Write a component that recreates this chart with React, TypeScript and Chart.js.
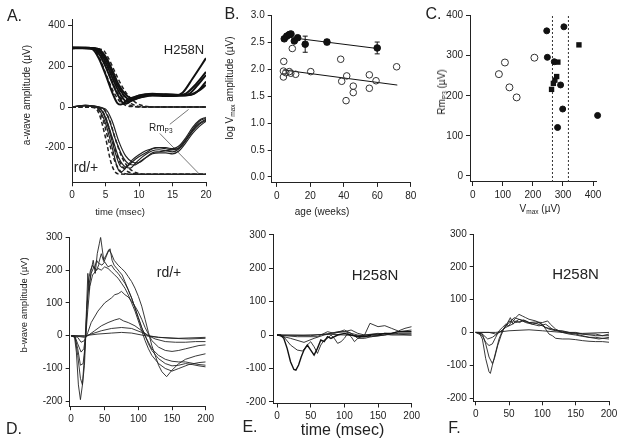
import React, { useEffect, useRef } from "react";
import { Chart, registerables } from "chart.js";
Chart.register(...registerables);

const PAGE_W = 624;
const PAGE_H = 446;
const FONT = "Arial, 'Liberation Sans', Helvetica, sans-serif";
type Pt = [number, number];

// ---------- tick labels ----------
const aTimeTicks = [0, 5, 10, 15, 20];
const aAmpTicks = [-200, 0, 200, 400];
const bAgeTicks = [0, 20, 40, 60, 80];
const bLogTicks = [0, 0.5, 1, 1.5, 2, 2.5, 3];
const cVmaxTicks = [0, 100, 200, 300, 400];
const cRmTicks = [0, 100, 200, 300, 400];
const bwTimeTicks = [0, 50, 100, 150, 200];
const bwAmpTicks = [-200, -100, 0, 100, 200, 300];

// ---------- panel A: a-wave traces (time ms, µV) ----------
const h258nA1: Pt[] = [[0,293],[1,292],[2,292],[3,286],[4,240],[5,160],[6,72],[6.8,18],[7.3,12],[8,28],[9,46],[10,56],[12,62],[14,58],[15.5,57],[16.5,70],[18,140],[20,240]];
const h258nA2: Pt[] = [[0,290],[1,291],[2,290],[3.2,286],[4,262],[5,200],[6,120],[7,50],[7.8,16],[8.4,20],[9.2,45],[10,57],[12,65],[14,61],[16,58],[17,66],[18.5,112],[20,172]];
const h258nA3: Pt[] = [[0,289],[1.5,290],[3.4,287],[4.3,262],[5.3,200],[6.3,122],[7.3,58],[8.2,26],[8.9,30],[10,50],[12,60],[14,63],[16,59],[17.3,62],[18.5,98],[20,157]];
const h258nA4: Pt[] = [[0,292],[1.5,290],[3.6,287],[4.7,255],[5.7,190],[6.7,112],[7.7,60],[8.7,36],[9.4,38],[10.5,52],[12,58],[14,57],[16,56],[17.5,59],[19,82],[20,108]];
const h258nA5: Pt[] = [[0,288],[1.5,289],[3.8,286],[5,248],[6,182],[7,108],[8,62],[9,42],[10,46],[12,56],[14,54],[16,56],[18,62],[19,85],[20,125]];
const h258nFit1: Pt[] = [[0,290],[3,290],[4,248],[5,168],[6,88],[7,32],[8,8],[9,2],[10,0],[20,0]];
const h258nFit2: Pt[] = [[0,290],[3.5,289],[4.5,242],[5.5,163],[6.5,88],[7.5,36],[8.5,11],[9.5,2],[11,0],[20,0]];
const h258nFit3: Pt[] = [[0,290],[4,286],[5,238],[6,162],[7,92],[8,42],[9,14],[10,3],[11.5,0],[20,0]];
const h258nFit4: Pt[] = [[0,290],[4.5,283],[5.5,236],[6.5,166],[7.5,100],[8.5,52],[9.5,22],[10.5,7],[12,0],[20,0]];

const rdA1: Pt[] = [[0,0],[1,5],[2,8],[3,5],[4,-10],[5,-80],[6,-200],[6.8,-300],[7.3,-320],[8,-300],[9,-260],[10,-235],[11,-215],[12,-205],[13,-200],[14,-205],[15,-210],[16,-200],[17,-160],[18,-110],[19,-70],[20,-55]];
const rdA2: Pt[] = [[0,0],[2,8],[4,-5],[5,-50],[6,-150],[7,-250],[8,-295],[8.7,-300],[9.5,-275],[10.5,-245],[12,-215],[13,-210],[14,-215],[15,-220],[16,-205],[17,-165],[18,-120],[19,-85],[20,-65]];
const rdA3: Pt[] = [[0,0],[2,7],[4.5,-5],[5.5,-60],[6.5,-160],[7.5,-240],[8.5,-280],[9.3,-285],[10.5,-260],[12,-230],[13,-225],[14,-225],[15,-230],[16,-215],[17,-175],[18,-130],[19,-95],[20,-70]];
const rdA4: Pt[] = [[0,0],[2,6],[5,-10],[6,-70],[7,-170],[8,-240],[9,-270],[9.8,-275],[11,-250],[12,-225],[13,-220],[14,-215],[15,-210],[16,-200],[17,-160],[18,-115],[19,-80],[20,-60]];
const rdA5: Pt[] = [[0,0],[2,8],[3,5],[4.5,-20],[5.5,-110],[6.5,-230],[7.2,-290],[7.8,-300],[8.5,-285],[9.5,-255],[11,-225],[12.5,-200],[14,-200],[15,-205],[16,-190],[17,-150],[18,-100],[19,-65],[20,-50]];
const rdFit1: Pt[] = [[0,0],[3,0],[4,-30],[5,-150],[5.8,-270],[6.4,-318],[7,-329],[8,-330],[20,-330]];
const rdFit2: Pt[] = [[0,0],[3.5,-2],[4.5,-50],[5.5,-170],[6.5,-275],[7.3,-318],[8,-328],[9,-330],[20,-330]];
const rdFit3: Pt[] = [[0,0],[4,-3],[5,-50],[6,-160],[7,-260],[8,-310],[9,-326],[10,-330],[20,-330]];
const rdFit4: Pt[] = [[0,0],[4.5,-4],[5.5,-55],[6.5,-160],[7.5,-250],[8.5,-300],[9.5,-322],[11,-330],[20,-330]];
const rmLeader1: Pt[] = [[14.6,-85],[17.4,-12]];
const rmLeader2: Pt[] = [[13.1,-130],[18.9,-326]];

// ---------- panel B: log Vmax vs age ----------
const ageFilled = [4.5, 6, 7.5, 8.5, 10.5, 12.5, 17, 30, 60];
const logVmaxFilled = [2.57, 2.62, 2.65, 2.66, 2.53, 2.59, 2.47, 2.51, 2.40];
const errFilled = [0.04, 0.03, 0.03, 0.03, 0.04, 0.04, 0.15, 0.05, 0.11];
const ageOpen = [4.2, 4, 4, 5.4, 7.5, 8.4, 9.3, 11.3, 20.3, 38.2, 38.8, 41.8, 41.4, 45.7, 45.7, 55.3, 55.3, 59.3, 71.6];
const logVmaxOpen = [2.15, 1.97, 1.86, 1.94, 1.96, 1.93, 2.39, 1.91, 1.96, 2.19, 1.78, 1.88, 1.42, 1.69, 1.57, 1.90, 1.65, 1.79, 2.05];
const fitFilledAge = [4, 60];
const fitFilledLog = [2.61, 2.39];
const fitOpenAge = [4, 72];
const fitOpenLog = [1.99, 1.71];

// ---------- panel C: Rm_P3 vs Vmax ----------
const vmaxFilledC = [246, 303, 248, 271, 292, 299, 282, 415];
const rmFilledC = [362, 372, 296, 285, 227, 167, 121, 151];
const vmaxSquareC = [262, 268, 279, 273, 283, 353];
const rmSquareC = [216, 231, 248, 239, 284, 327];
const vmaxOpenC = [87, 107, 122, 146, 205];
const rmOpenC = [254, 283, 221, 196, 295];
const vmaxLimitsC = [265, 318];

// ---------- panel D: b-wave rd/+ ----------
const dTr1: Pt[] = [[0,0],[5,0],[8,-50],[11,-150],[14,-195],[17,-150],[20,-60],[23,80],[25,190],[27,140],[30,200],[33,230],[36,190],[39,250],[42,280],[44,300],[46,270],[49,225],[52,240],[55,255],[58,265],[61,230],[64,215],[68,205],[72,195],[76,185],[80,165],[85,140],[90,115],[95,85],[100,55],[105,25],[110,0],[115,-20],[120,-40],[130,-60],[140,-72],[150,-78],[160,-80],[170,-80],[180,-84],[190,-88],[200,-90]];
const dTr2: Pt[] = [[0,0],[6,-5],[10,-60],[14,-130],[17,-150],[20,-90],[23,50],[26,170],[29,200],[32,215],[35,205],[38,230],[41,220],[45,250],[48,230],[52,245],[56,262],[60,250],[64,230],[70,215],[75,205],[80,195],[85,180],[90,165],[95,145],[100,120],[105,90],[110,50],[115,10],[120,-30],[125,-60],[130,-90],[135,-110],[142,-125],[150,-105],[160,-85],[170,-72],[185,-62],[200,-55]];
const dTr3: Pt[] = [[0,0],[6,-5],[10,-40],[14,-90],[18,-85],[21,-30],[24,100],[27,160],[30,190],[34,210],[38,200],[42,220],[46,215],[50,225],[55,210],[60,215],[65,200],[70,190],[75,175],[80,160],[85,140],[90,115],[95,85],[100,55],[105,25],[110,0],[115,-25],[120,-45],[130,-70],[140,-85],[150,-92],[160,-90],[170,-85],[180,-88],[190,-92],[200,-95]];
const dTr4: Pt[] = [[0,0],[6,-3],[10,-25],[15,-50],[19,-40],[22,0],[25,80],[28,150],[32,185],[36,195],[40,205],[45,200],[50,210],[55,205],[60,195],[65,185],[70,175],[75,160],[80,145],[85,125],[90,100],[95,75],[100,45],[105,15],[110,-15],[115,-40],[120,-60],[130,-85],[140,-100],[150,-108],[160,-100],[175,-88],[190,-82],[200,-80]];
const dTr5: Pt[] = [[0,0],[10,-5],[15,-20],[20,-15],[25,10],[30,40],[40,75],[50,100],[60,115],[65,125],[70,128],[75,135],[80,125],[85,118],[90,105],[95,90],[100,72],[105,50],[110,25],[115,5],[120,-15],[130,-35],[140,-45],[150,-48],[160,-45],[170,-40],[180,-35],[190,-30],[200,-28]];
const dTr6: Pt[] = [[0,0],[10,-2],[20,-5],[25,0],[35,15],[45,30],[55,40],[65,48],[72,52],[78,45],[85,40],[95,30],[105,15],[115,0],[125,-10],[140,-18],[155,-20],[170,-20],[185,-18],[200,-18]];
const dTr7: Pt[] = [[0,0],[20,-2],[30,5],[45,15],[60,22],[75,25],[90,22],[105,10],[115,0],[130,-5],[150,-8],[175,-10],[200,-8]];
const dTr8: Pt[] = [[0,0],[20,0],[40,5],[60,8],[75,10],[90,8],[110,0],[130,-5],[160,-8],[200,-5]];

// ---------- panel E: b-wave H258N ----------
const eTr1: Pt[] = [[0,0],[5,0],[10,-10],[15,-40],[20,-80],[25,-103],[28,-105],[32,-90],[36,-65],[40,-45],[45,-30],[50,-45],[55,-60],[60,-40],[65,-15],[70,-20],[75,-5],[80,-10],[90,0],[100,5],[110,0],[120,-5],[130,-5],[140,0],[150,0],[160,5],[170,5],[180,10],[190,10],[200,10]];
const eTr2: Pt[] = [[0,0],[10,-5],[20,-30],[30,-45],[38,-48],[45,-30],[50,-20],[55,-35],[60,-55],[65,-30],[70,-15],[75,-10],[80,0],[85,-10],[90,-25],[95,-20],[100,-10],[105,5],[110,-5],[115,-20],[120,-10],[130,0],[138,35],[150,25],[160,28],[170,20],[180,12],[190,20],[200,25]];
const eTr3: Pt[] = [[0,0],[20,-10],[40,-22],[55,-10],[70,0],[80,5],[90,10],[100,10],[110,15],[120,5],[130,0],[150,5],[170,0],[200,0]];
const eTr4: Pt[] = [[0,0],[50,-2],[80,5],[100,10],[120,0],[140,-5],[160,0],[180,10],[200,15]];
const eTr5: Pt[] = [[0,0],[40,0],[80,2],[120,-2],[160,5],[200,0]];
const eTr6: Pt[] = [[0,0],[30,-5],[60,-5],[75,10],[85,5],[100,15],[110,5],[120,-10],[130,-10],[140,-5],[160,0],[180,5],[200,5]];

// ---------- panel F: b-wave H258N ----------
const fTr1: Pt[] = [[0,0],[5,0],[10,-20],[15,-80],[20,-120],[22,-125],[25,-100],[30,-60],[35,-20],[40,5],[45,20],[50,35],[55,30],[60,45],[65,55],[70,50],[75,45],[80,40],[90,35],[100,25],[105,10],[110,-5],[115,-10],[120,-18],[130,-20],[140,-20],[150,-22],[160,-25],[170,-27],[180,-28],[190,-28],[200,-30]];
const fTr2: Pt[] = [[0,0],[10,-5],[15,-35],[20,-75],[25,-95],[28,-80],[33,-40],[38,-10],[43,15],[48,30],[52,45],[56,25],[60,35],[66,30],[72,38],[80,30],[90,32],[100,30],[108,35],[112,25],[120,10],[130,0],[140,-5],[150,-8],[160,-12],[170,-15],[180,-15],[190,-18],[200,-20]];
const fTr3: Pt[] = [[0,0],[10,-10],[15,-30],[20,-40],[25,-35],[30,-15],[35,5],[40,15],[45,25],[50,20],[55,40],[60,30],[70,35],[80,30],[90,28],[100,20],[110,10],[120,5],[130,5],[140,0],[150,0],[160,-5],[170,-5],[180,-5],[190,-10],[200,-5]];
const fTr4: Pt[] = [[0,0],[10,-5],[18,-20],[25,-15],[35,0],[45,15],[55,25],[65,40],[75,35],[85,25],[95,30],[105,15],[115,10],[125,5],[140,0],[160,-5],[180,-10],[200,-10]];
const fTr5: Pt[] = [[0,0],[30,0],[50,5],[80,8],[100,5],[130,0],[160,-3],[200,0]];
const fTr6: Pt[] = [[0,0],[20,0],[30,-5],[40,5],[50,30],[58,45],[65,40],[75,30],[85,25],[95,20],[105,25],[115,10],[130,0],[150,-5],[170,-15],[185,-20],[200,-15]];

// ---------- helpers ----------
const toXY = (arr: Pt[]) => arr.map(([x, y]) => ({ x, y }));
const zipXY = (xs: number[], ys: number[]) => xs.map((x, i) => ({ x, y: ys[i] }));

const trace = (pts: Pt[], o: any = {}) => ({
  data: toXY(pts),
  borderColor: "#222",
  borderWidth: 1,
  pointRadius: 0,
  fill: false,
  tension: 0,
  ...o,
});

type Area = { left: number; top: number; right: number; bottom: number };
type AxisSpec = { min: number; max: number; ticks: number[]; fmt?: (v: number) => string };

const YW = 40;
const XH = 24;

function axis(kind: "x" | "y", s: AxisSpec) {
  return {
    type: "linear",
    position: kind === "x" ? "bottom" : "left",
    min: s.min,
    max: s.max,
    grid: { display: true, drawOnChartArea: false, drawTicks: true, tickLength: 4, color: "#222", lineWidth: 1 },
    border: { display: true, color: "#222", width: 1 },
    ticks: {
      font: { family: FONT, size: 10 },
      color: "#222",
      padding: 3,
      maxRotation: 0,
      autoSkip: false,
      callback: (v: number) => (s.fmt ? s.fmt(v) : String(v)),
    },
    afterBuildTicks: (sc: any) => {
      sc.ticks = s.ticks.map((v) => ({ value: v }));
    },
    afterFit: (sc: any) => {
      if (kind === "x") sc.height = XH;
      else sc.width = YW;
      sc.paddingLeft = 0;
      sc.paddingRight = 0;
      sc.paddingTop = 0;
      sc.paddingBottom = 0;
    },
  };
}

function makeConfig(area: Area, x: AxisSpec, y: AxisSpec, datasets: any[]) {
  return {
    type: "line",
    data: { datasets },
    options: {
      responsive: false,
      animation: false,
      events: [],
      layout: {
        padding: {
          left: area.left - YW,
          top: area.top,
          right: PAGE_W - area.right,
          bottom: PAGE_H - area.bottom - XH,
        },
      },
      plugins: { legend: { display: false }, tooltip: { enabled: false } },
      scales: { x: axis("x", x), y: axis("y", y) },
    },
  };
}

function errorBarData(xs: number[], ys: number[], es: number[]) {
  const out: any[] = [];
  xs.forEach((x, i) => {
    out.push({ x, y: ys[i] - es[i] }, { x, y: ys[i] + es[i] }, { x, y: null });
  });
  return out;
}
function capData(xs: number[], ys: number[], es: number[]) {
  const out: any[] = [];
  xs.forEach((x, i) => {
    out.push({ x, y: ys[i] - es[i] }, { x, y: ys[i] + es[i] });
  });
  return out;
}

function configA() {
  const thick = { borderColor: "#111", borderWidth: 2, cubicInterpolationMode: "monotone" };
  const thin = { borderColor: "#222", borderWidth: 1.2, cubicInterpolationMode: "monotone" };
  const dash = { borderColor: "#222", borderWidth: 1.5, borderDash: [4, 2.5], cubicInterpolationMode: "monotone" };
  const ds = [
    ...[h258nA1, h258nA2, h258nA3, h258nA4, h258nA5].map((t) => trace(t, thick)),
    ...[h258nFit1, h258nFit2, h258nFit3, h258nFit4].map((t) => trace(t, dash)),
    ...[rdA1, rdA2, rdA3, rdA4, rdA5].map((t) => trace(t, thin)),
    ...[rdFit1, rdFit2, rdFit3, rdFit4].map((t) => trace(t, dash)),
    trace(rmLeader1, { borderColor: "#555", borderWidth: 0.8 }),
    trace(rmLeader2, { borderColor: "#555", borderWidth: 0.8 }),
  ];
  return makeConfig(
    { left: 72, top: 19.5, right: 206, bottom: 182.3 },
    { min: 0, max: 20, ticks: aTimeTicks },
    { min: -370, max: 430, ticks: aAmpTicks },
    ds
  );
}

function configB() {
  const ds = [
    {
      data: zipXY(ageFilled, logVmaxFilled),
      showLine: false,
      pointRadius: 3.3,
      pointBackgroundColor: "#111",
      pointBorderColor: "#111",
      pointBorderWidth: 1,
      clip: false,
    },
    {
      data: zipXY(ageOpen, logVmaxOpen),
      showLine: false,
      pointRadius: 3.3,
      pointBackgroundColor: "rgba(255,255,255,0)",
      pointBorderColor: "#333",
      pointBorderWidth: 1,
      clip: false,
    },
    {
      data: errorBarData(ageFilled, logVmaxFilled, errFilled),
      borderColor: "#111",
      borderWidth: 1,
      pointRadius: 0,
      spanGaps: false,
    },
    {
      data: capData(ageFilled, logVmaxFilled, errFilled),
      showLine: false,
      pointStyle: "line",
      pointRadius: 2.5,
      pointBorderColor: "#111",
      pointBorderWidth: 1,
    },
    { data: zipXY(fitFilledAge, fitFilledLog), borderColor: "#111", borderWidth: 1, pointRadius: 0 },
    { data: zipXY(fitOpenAge, fitOpenLog), borderColor: "#111", borderWidth: 1, pointRadius: 0 },
  ];
  return makeConfig(
    { left: 271.7, top: 15.7, right: 410.7, bottom: 182.9 },
    { min: -3, max: 80, ticks: bAgeTicks },
    { min: -0.11, max: 3, ticks: bLogTicks, fmt: (v) => v.toFixed(1) },
    ds
  );
}

function configC() {
  const ds = [
    {
      data: zipXY(vmaxFilledC, rmFilledC),
      showLine: false,
      pointRadius: 3,
      pointBackgroundColor: "#111",
      pointBorderColor: "#111",
      pointBorderWidth: 1,
      clip: false,
    },
    {
      data: zipXY(vmaxSquareC, rmSquareC),
      showLine: false,
      pointStyle: "rect",
      pointRadius: 3.8,
      pointBackgroundColor: "#111",
      pointBorderColor: "#111",
      pointBorderWidth: 0,
      clip: false,
    },
    {
      data: zipXY(vmaxOpenC, rmOpenC),
      showLine: false,
      pointRadius: 3.5,
      pointBackgroundColor: "rgba(255,255,255,0)",
      pointBorderColor: "#333",
      pointBorderWidth: 1,
      clip: false,
    },
    ...vmaxLimitsC.map((v) => ({
      data: [
        { x: v, y: -15 },
        { x: v, y: 400 },
      ],
      borderColor: "#333",
      borderWidth: 1,
      borderDash: [2, 2],
      pointRadius: 0,
    })),
  ];
  return makeConfig(
    { left: 470, top: 15.6, right: 596.1, bottom: 182 },
    { min: -9, max: 410, ticks: cVmaxTicks },
    { min: -15, max: 400, ticks: cRmTicks },
    ds
  );
}

function configD() {
  const ds = [dTr1, dTr2, dTr3, dTr4, dTr5, dTr6, dTr7, dTr8].map((t) =>
    trace(t, { borderColor: "#222", borderWidth: 0.9 })
  );
  return makeConfig(
    { left: 69.65, top: 237.3, right: 205.7, bottom: 406.2 },
    { min: -2, max: 200, ticks: bwTimeTicks },
    { min: -215, max: 300, ticks: bwAmpTicks },
    ds
  );
}

function configE() {
  const ds = [
    trace(eTr1, { borderColor: "#111", borderWidth: 1.4 }),
    ...[eTr2, eTr3, eTr4, eTr5, eTr6].map((t) => trace(t, { borderColor: "#222", borderWidth: 0.9 })),
  ];
  return makeConfig(
    { left: 273, top: 234.8, right: 411.7, bottom: 403.5 },
    { min: -6, max: 200, ticks: bwTimeTicks },
    { min: -205, max: 300, ticks: bwAmpTicks },
    ds
  );
}

function configF() {
  const ds = [fTr1, fTr2, fTr3, fTr4, fTr5, fTr6].map((t) =>
    trace(t, { borderColor: "#222", borderWidth: 0.9 })
  );
  return makeConfig(
    { left: 473.7, top: 234, right: 609, bottom: 401.3 },
    { min: -3, max: 200, ticks: bwTimeTicks },
    { min: -210, max: 300, ticks: bwAmpTicks },
    ds
  );
}

function Panel({ make }: { make: () => any }) {
  const ref = useRef<HTMLCanvasElement | null>(null);
  useEffect(() => {
    if (!ref.current) return;
    const chart = new Chart(ref.current, make());
    return () => chart.destroy();
  }, [make]);
  return (
    <canvas
      ref={ref}
      width={PAGE_W}
      height={PAGE_H}
      style={{ position: "absolute", left: 0, top: 0, width: PAGE_W, height: PAGE_H }}
    />
  );
}

function Txt({
  x,
  y,
  size,
  rotate,
  align,
  children,
}: {
  x: number;
  y: number;
  size: number;
  rotate?: boolean;
  align?: "left" | "center";
  children: React.ReactNode;
}) {
  const tx = align === "left" ? "0" : "-50%";
  return (
    <div
      style={{
        position: "absolute",
        left: x,
        top: y,
        transform: `translate(${tx}, -50%)${rotate ? " rotate(-90deg)" : ""}`,
        fontFamily: FONT,
        fontSize: size,
        lineHeight: 1,
        color: "#222",
        whiteSpace: "nowrap",
      }}
    >
      {children}
    </div>
  );
}

const subStyle: React.CSSProperties = { fontSize: "0.65em", verticalAlign: "baseline", position: "relative", top: "0.3em" };

const makers = [configA, configB, configC, configD, configE, configF];

export default function App() {
  return (
    <div style={{ position: "fixed", left: 0, top: 0, width: PAGE_W, height: PAGE_H, background: "#fff", overflow: "hidden" }}>
      {makers.map((m, i) => (
        <Panel key={i} make={m} />
      ))}
      {/* panel letters */}
      <Txt x={14.5} y={16} size={16}>A.</Txt>
      <Txt x={232} y={14} size={16}>B.</Txt>
      <Txt x={433.5} y={13.5} size={16}>C.</Txt>
      <Txt x={14} y={429} size={16}>D.</Txt>
      <Txt x={250} y={426.5} size={16}>E.</Txt>
      <Txt x={454.5} y={427.5} size={16}>F.</Txt>
      {/* in-plot labels */}
      <Txt x={184} y={49} size={13}>H258N</Txt>
      <Txt x={86} y={167} size={14}>rd/+</Txt>
      <Txt x={149} y={128} size={10} align="left">
        Rm<span style={subStyle}>P3</span>
      </Txt>
      <Txt x={169} y={271.5} size={14}>rd/+</Txt>
      <Txt x={375} y={274} size={15}>H258N</Txt>
      <Txt x={575.5} y={272.5} size={15}>H258N</Txt>
      {/* axis titles */}
      <Txt x={27} y={95} size={10} rotate>a-wave amplitude (µV)</Txt>
      <Txt x={120} y={212} size={9.5}>time (msec)</Txt>
      <Txt x={230} y={88} size={10} rotate>
        log V<span style={subStyle}>max</span> amplitude (µV)
      </Txt>
      <Txt x={322} y={212} size={10}>age (weeks)</Txt>
      <Txt x={442} y={92} size={10} rotate>
        Rm<span style={subStyle}>P3</span> (µV)
      </Txt>
      <Txt x={540} y={209} size={10}>
        V<span style={subStyle}>max</span> (µV)
      </Txt>
      <Txt x={24} y={305} size={9.5} rotate>b-wave amplitude (µV)</Txt>
      <Txt x={342.5} y={429.5} size={16}>time (msec)</Txt>
    </div>
  );
}
